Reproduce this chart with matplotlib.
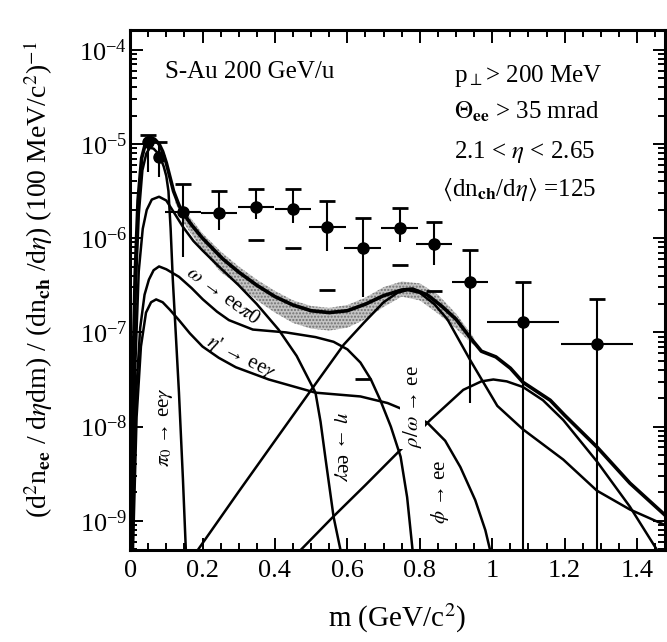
import matplotlib
matplotlib.use("Agg")
import matplotlib.pyplot as plt
import numpy as np
from matplotlib.ticker import LogLocator, NullFormatter, MultipleLocator, FixedLocator, FixedFormatter

plt.rcParams['font.family'] = ['Liberation Serif', 'DejaVu Serif']
plt.rcParams['mathtext.fontset'] = 'stix'

# ---- data (y kept as log10) ----
# measured pairs
mass   = [0.050, 0.080, 0.146, 0.245, 0.347, 0.449, 0.545, 0.642, 0.744, 0.840, 0.939, 1.085, 1.289]
pts    = [-4.98, -5.14, -5.72, -5.73, -5.67, -5.69, -5.88, -6.10, -5.89, -6.06, -6.47, -6.89, -7.12]
pts_hi = [-4.90, -4.98, -5.43, -5.50, -5.48, -5.48, -5.61, -5.79, -5.68, -5.83, -6.13, -6.47, -6.65]
pts_lo = [-5.30, -5.35, -6.20, -5.91, -5.80, -5.84, -6.14, -6.62, -6.04, -6.28, -7.75, -10.0, -10.0]
m_err  = [0.0, 0.0, 0.05, 0.05, 0.05, 0.05, 0.05, 0.05, 0.05, 0.05, 0.05, 0.10, 0.10]
# separate lower marks
dash_m = [0.347, 0.449, 0.545, 0.642, 0.744, 0.840]
dash_y = [-6.02, -6.10, -6.55, -7.50, -6.29, -6.56]

# pi0 -> ee gamma
pi0_m   = [0.004, 0.010, 0.016, 0.024, 0.034, 0.045, 0.055, 0.065, 0.075, 0.085, 0.093, 0.100, 0.106,
           0.112, 0.118, 0.126, 0.135, 0.146, 0.154]
pi0_log = [-9.31, -7.60, -6.50, -5.75, -5.28, -5.10, -5.04, -5.05, -5.09, -5.16, -5.24, -5.34, -5.50,
           -5.90, -6.44, -7.00, -7.64, -8.56, -9.31]
# eta -> ee gamma
eta_m   = [0.006, 0.014, 0.024, 0.035, 0.046, 0.060, 0.080, 0.100, 0.120, 0.146, 0.175, 0.200, 0.245,
           0.300, 0.350, 0.410, 0.460, 0.512, 0.526, 0.540, 0.562, 0.581]
eta_log = [-9.31, -7.40, -6.35, -5.90, -5.70, -5.59, -5.56, -5.60, -5.72, -5.88, -6.03, -6.13, -6.30,
           -6.50, -6.70, -6.97, -7.25, -7.64, -7.95, -8.35, -8.96, -9.31]
# omega -> ee pi0
omega_m   = [0.007, 0.016, 0.028, 0.040, 0.052, 0.065, 0.080, 0.100, 0.135, 0.170, 0.201, 0.240, 0.273,
             0.339, 0.430, 0.512, 0.562, 0.600, 0.636, 0.665, 0.691, 0.720, 0.747, 0.765, 0.780]
omega_log = [-9.31, -7.70, -6.95, -6.60, -6.44, -6.34, -6.30, -6.33, -6.41, -6.53, -6.65, -6.78, -6.87,
             -6.97, -7.00, -7.05, -7.10, -7.18, -7.32, -7.50, -7.72, -8.00, -8.32, -8.75, -9.31]
# eta' -> ee gamma
etap_m   = [0.008, 0.018, 0.030, 0.044, 0.058, 0.072, 0.090, 0.110, 0.135, 0.165, 0.200, 0.245, 0.292,
            0.383, 0.512, 0.636, 0.711, 0.755, 0.821, 0.870, 0.912, 0.953, 0.981, 0.994]
etap_log = [-9.31, -7.90, -7.15, -6.79, -6.68, -6.65, -6.68, -6.76, -6.87, -7.01, -7.15, -7.27, -7.37,
            -7.50, -7.64, -7.68, -7.75, -7.82, -7.96, -8.15, -8.43, -8.78, -9.10, -9.31]
# rho/omega -> ee
rho_m   = [0.187, 0.300, 0.400, 0.504, 0.590, 0.645, 0.700, 0.738, 0.766, 0.800, 0.840, 0.876, 0.940,
           1.014, 1.085, 1.196, 1.289, 1.380, 1.480]
rho_log = [-9.31, -8.69, -8.15, -7.59, -7.13, -6.90, -6.68, -6.58, -6.55, -6.58, -6.70, -6.86, -7.30,
           -7.78, -8.03, -8.35, -8.68, -8.88, -9.05]
# phi -> ee
phi_m   = [0.471, 0.560, 0.650, 0.738, 0.829, 0.920, 0.970, 1.003, 1.040, 1.085, 1.140, 1.196, 1.289,
           1.380, 1.455]
phi_log = [-9.31, -8.96, -8.62, -8.28, -7.93, -7.61, -7.52, -7.50, -7.52, -7.58, -7.72, -7.93, -8.37,
           -8.85, -9.31]
# sum of sources
sum_m   = [0.003, 0.008, 0.014, 0.022, 0.032, 0.044, 0.056, 0.068, 0.080, 0.090, 0.100, 0.110, 0.120,
           0.135, 0.146, 0.170, 0.200, 0.256, 0.300, 0.350, 0.400, 0.450, 0.500, 0.550, 0.600, 0.650,
           0.700, 0.750, 0.780, 0.820, 0.860, 0.900, 0.940, 0.970, 1.010, 1.050, 1.085, 1.160, 1.200,
           1.290, 1.380, 1.480]
sum_log = [-9.31, -7.50, -6.40, -5.60, -5.15, -4.97, -4.93, -4.95, -5.00, -5.08, -5.20, -5.35, -5.50,
           -5.65, -5.73, -5.86, -6.00, -6.22, -6.36, -6.50, -6.62, -6.71, -6.77, -6.79, -6.77, -6.70,
           -6.61, -6.55, -6.54, -6.60, -6.72, -6.86, -7.06, -7.20, -7.26, -7.38, -7.53, -7.72, -7.88,
           -8.22, -8.60, -8.95]
# systematic band around the sum
band_m  = [0.125, 0.150, 0.200, 0.250, 0.300, 0.350, 0.400, 0.450, 0.500, 0.550, 0.600, 0.650, 0.700,
           0.750, 0.800, 0.850, 0.900, 0.950]
band_hi = [-5.56, -5.70, -5.95, -6.14, -6.30, -6.44, -6.56, -6.66, -6.72, -6.74, -6.71, -6.63, -6.52,
           -6.46, -6.48, -6.60, -6.80, -7.06]
band_lo = [-5.62, -5.85, -6.13, -6.36, -6.50, -6.66, -6.79, -6.90, -6.96, -6.98, -6.95, -6.86, -6.73,
           -6.62, -6.66, -6.80, -6.96, -7.14]

xticks = [0, 0.2, 0.4, 0.6, 0.8, 1.0, 1.2, 1.4]
xtick_labels = ['0', '0.2', '0.4', '0.6', '0.8', '1', '1.2', '1.4']


def p10(a):
    return np.power(10.0, np.asarray(a, dtype=float))


fig = plt.figure(figsize=(6.67, 6.42), dpi=100)
ax = fig.add_axes([0.195, 0.1433, 0.802, 0.81])
ax.set_yscale('log')

ax.fill_between(band_m, p10(band_lo), p10(band_hi), facecolor='#c4c4c4', edgecolor='#707070',
                hatch='.....', linewidth=0, zorder=1)

curve_kw = dict(color='k', lw=1.8, zorder=3, solid_capstyle='round')
for cm, cl in [(pi0_m, pi0_log), (eta_m, eta_log), (omega_m, omega_log), (etap_m, etap_log),
               (rho_m, rho_log), (phi_m, phi_log)]:
    ax.plot(cm, p10(cl), **curve_kw)
ax.plot(sum_m, p10(sum_log), color='k', lw=2.6, zorder=4)

y = p10(pts)
ax.errorbar(mass, y, xerr=m_err, yerr=[y - p10(pts_lo), p10(pts_hi) - y], fmt='o', color='k',
            ms=8, elinewidth=1.5, capsize=0, zorder=6)
ax.plot(mass, p10(pts_hi), ls='none', marker='_', ms=11, mew=2, color='k', zorder=6)
ax.plot(dash_m, p10(dash_y), ls='none', marker='_', ms=11, mew=2, color='k', zorder=6)

ax.set_xlim(0, 1.477)
ax.set_ylim(10 ** -9.31, 10 ** -3.79)

ax.xaxis.set_major_locator(FixedLocator(xticks))
ax.xaxis.set_major_formatter(FixedFormatter(xtick_labels))
ax.xaxis.set_minor_locator(MultipleLocator(0.05))
ax.yaxis.set_major_locator(LogLocator(base=10, numticks=15))
ax.yaxis.set_minor_locator(LogLocator(base=10, subs=np.arange(2, 10), numticks=15))
ax.yaxis.set_minor_formatter(NullFormatter())
ax.tick_params(which='both', direction='in', top=True, right=True, width=1.4)
ax.tick_params(which='major', length=9, labelsize=19)
ax.tick_params(which='minor', length=5)
ax.tick_params(axis='x', which='major', pad=7)
ax.tick_params(axis='y', which='major', pad=2)
for sp in ax.spines.values():
    sp.set_linewidth(2.2)

ax.set_xlabel(r'm (GeV/c$^2$)', fontsize=21, va='center')
ax.xaxis.set_label_coords(0.5, -0.131)
ax.set_ylabel(r'(d$^2$n$_{\mathbf{ee}}$ / d$\eta$dm) / (dn$_{\mathbf{ch}}$ /d$\eta$) (100 MeV/c$^2$)$^{-1}$',
              fontsize=20, va='center')
ax.yaxis.set_label_coords(-0.172, 0.52)

# header texts
ax.text(0.065, 0.919, 'S-Au 200 GeV/u', transform=ax.transAxes, fontsize=18, va='center')
ax.text(0.606, 0.912, r'p$_{\perp}$> 200 MeV', transform=ax.transAxes, fontsize=18, va='center')
ax.text(0.606, 0.842, r'$\Theta_{\mathbf{ee}}$ > 35 mrad', transform=ax.transAxes, fontsize=18, va='center')
ax.text(0.606, 0.765, r'2.1 < $\eta$ < 2.65', transform=ax.transAxes, fontsize=18, va='center')
ax.text(0.584, 0.692, r'$\langle$dn$_{\mathbf{ch}}$/d$\eta\rangle$ =125', transform=ax.transAxes,
        fontsize=18, va='center')

# curve labels
lab_kw = dict(fontsize=15, ha='center', va='center', rotation_mode='anchor', zorder=5)
ax.text(0.099, 10 ** -8.01, r'$\pi_0$ → ee$\gamma$', rotation=90, **lab_kw)
ax.text(0.256, 10 ** -6.62, r'$\omega$ → ee$\pi$0', rotation=-36, **lab_kw)
ax.text(0.306, 10 ** -7.26, r"$\eta$' → ee$\gamma$", rotation=-27, **lab_kw)
ax.text(0.581, 10 ** -8.22, r'$\eta$ → ee$\gamma$', rotation=-90, **lab_kw)
ax.text(0.780, 10 ** -7.79, r'$\rho/\omega$ → ee', rotation=90,
        bbox=dict(facecolor='white', edgecolor='none', pad=0.5), **lab_kw)
ax.text(0.857, 10 ** -8.69, r'$\phi$ → ee', rotation=90, **lab_kw)

fig.savefig('out.png', dpi=100)
